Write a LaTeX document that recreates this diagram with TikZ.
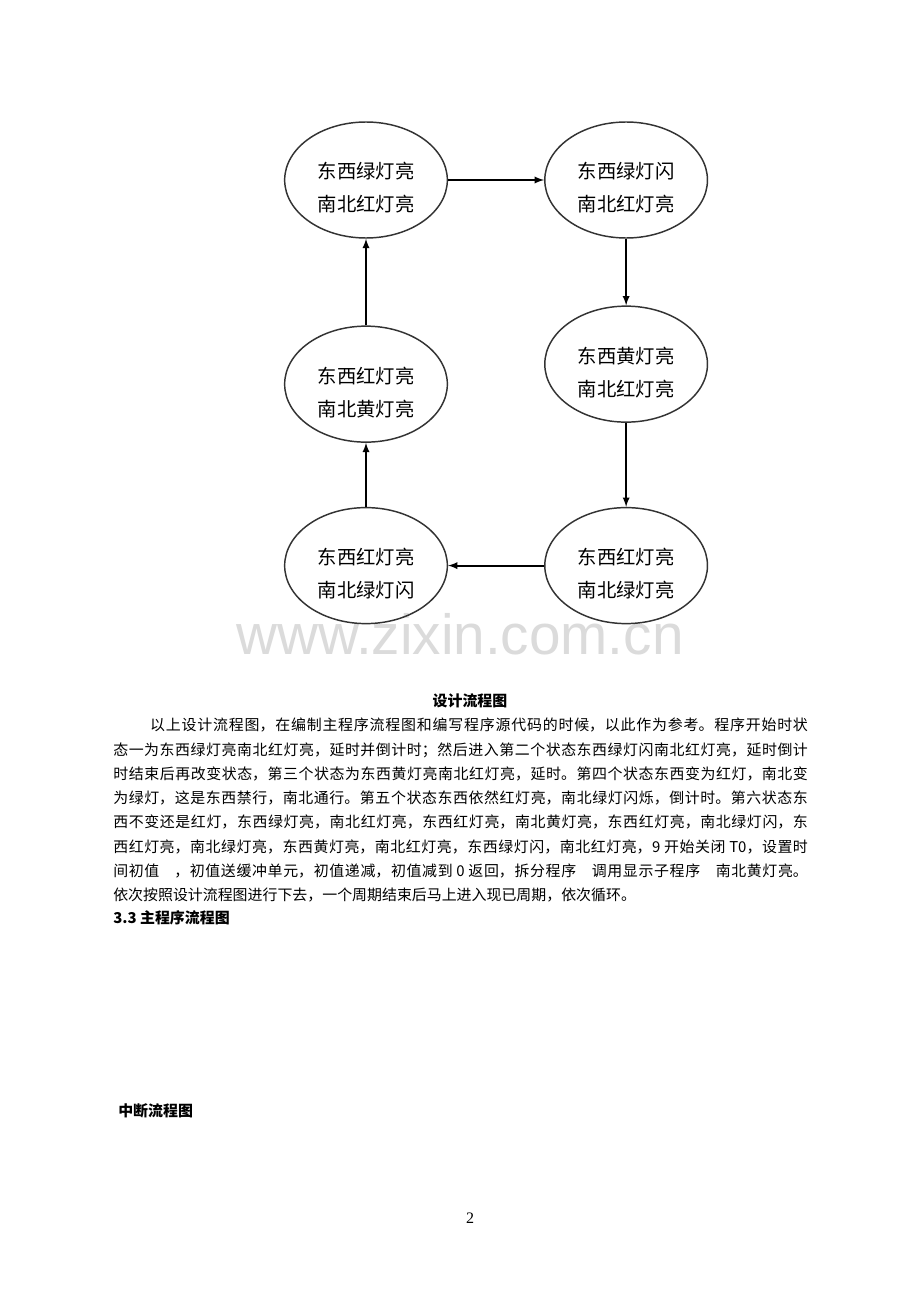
\documentclass[tikz,border=0pt]{standalone}
\usepackage{fontspec}
\setmainfont{Noto Sans CJK SC}
\newfontfamily\wmfont{Liberation Sans}
\newfontfamily\numfont{Liberation Serif}
\XeTeXlinebreaklocale "zh"
\XeTeXlinebreakskip=0pt plus 2pt
\usetikzlibrary{shapes.geometric,positioning}

\begin{document}
\begin{tikzpicture}[x=0.75pt,y=-0.75pt]
	\tikzstyle{state} = [ellipse, draw=black!80, line width=1.1pt, minimum width=122pt, minimum height=87pt, inner sep=0pt]
	\tikzstyle{stateText} = [align=center, inner sep=0pt, font=\fontsize{14.5}{24.75}\selectfont]
	\tikzstyle{transition} = [line width=1.4pt,->,>=latex]
	\tikzstyle{bodyText} = [anchor=north west, inner sep=0pt, text width=521pt, align=justify, font=\fontsize{11.2}{18.2}\selectfont]
	\tikzstyle{heading} = [inner sep=0pt, font=\bfseries\fontsize{11.2}{13}\selectfont]

	\useasboundingbox[fill=white] (0,0) rectangle (920,1302);

	% watermark
	\node (watermark) [text=black!14, inner sep=0pt, font=\wmfont\fontsize{42.5}{50}\selectfont] at (460,634) {www.zixin.com.cn};

	% states
	\node (greenRed) [state] at (366,180) {};
	\node (greenBlinkRed) [state, right = 72pt of greenRed] {};
	\node (yellowRed) [state, below = 50pt of greenBlinkRed] {};
	\node (redGreen) [state, below = 63pt of yellowRed] {};
	\node (redGreenBlink) [state, left = 72pt of redGreen] {};
	\node (redYellow) [state, above = 48pt of redGreenBlink] {};

	\node (greenRedText) [stateText] at ([yshift=-6pt]greenRed.center) {东西绿灯亮\\南北红灯亮};
	\node (greenBlinkRedText) [stateText] at ([yshift=-6pt]greenBlinkRed.center) {东西绿灯闪\\南北红灯亮};
	\node (yellowRedText) [stateText] at ([yshift=-6pt]yellowRed.center) {东西黄灯亮\\南北红灯亮};
	\node (redGreenText) [stateText] at ([yshift=-6pt]redGreen.center) {东西红灯亮\\南北绿灯亮};
	\node (redGreenBlinkText) [stateText] at ([yshift=-6pt]redGreenBlink.center) {东西红灯亮\\南北绿灯闪};
	\node (redYellowText) [stateText] at ([yshift=-6pt]redYellow.center) {东西红灯亮\\南北黄灯亮};

	\draw [transition] (greenRed) -- (greenBlinkRed);
	\draw [transition] (greenBlinkRed) -- (yellowRed);
	\draw [transition] (yellowRed) -- (redGreen);
	\draw [transition] (redGreen) -- (redGreenBlink);
	\draw [transition] (redGreenBlink) -- (redYellow);
	\draw [transition] (redYellow) -- (greenRed);

	% text of the page
	\node (figCaption) [heading] at (470,701) {设计流程图};
	\node (bodyPara) [bodyText] at (113,718) {\hspace*{27.7pt}以上设计流程图，在编制主程序流程图和编写程序源代码的时候，以此作为参考。程序开始时状\linebreak
	态一为东西绿灯亮南北红灯亮，延时并倒计时；然后进入第二个状态东西绿灯闪南北红灯亮，延时倒计\linebreak
	时结束后再改变状态，第三个状态为东西黄灯亮南北红灯亮，延时。第四个状态东西变为红灯，南北变\linebreak
	为绿灯，这是东西禁行，南北通行。第五个状态东西依然红灯亮，南北绿灯闪烁，倒计时。第六状态东\linebreak
	西不变还是红灯，东西绿灯亮，南北红灯亮，东西红灯亮，南北黄灯亮，东西红灯亮，南北绿灯闪，东\linebreak
	西红灯亮，南北绿灯亮，东西黄灯亮，南北红灯亮，东西绿灯闪，南北红灯亮，9 开始关闭 T0，设置时\linebreak
	间初值　，初值送缓冲单元，初值递减，初值减到 0 返回，拆分程序　调用显示子程序　南北黄灯亮。\linebreak
	依次按照设计流程图进行下去，一个周期结束后马上进入现已周期，依次循环。};
	\node (mainFlowTitle) [heading, anchor=west] at (113,918) {3.3 主程序流程图};
	\node (intFlowTitle) [heading, anchor=west] at (118,1111) {中断流程图};
	\node (pageNumber) [inner sep=0pt, font=\numfont\fontsize{12}{14}\selectfont] at (470,1218) {2};
\end{tikzpicture}
\end{document}
